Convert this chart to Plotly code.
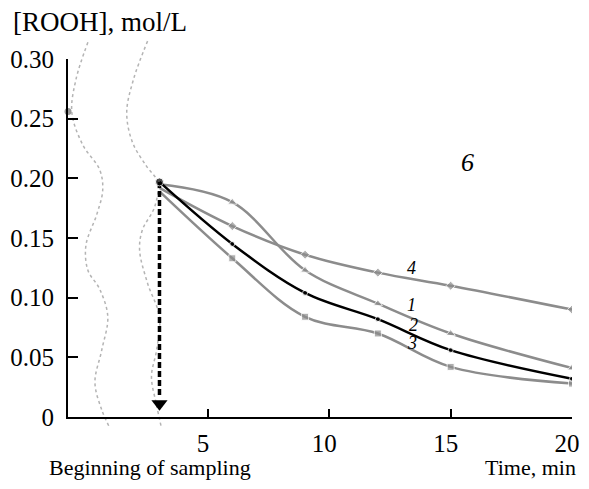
import plotly.graph_objects as go

# sampling times, min
t = [3, 6, 9, 12, 15, 20]

# [ROOH], mol/L for curves 1-4
rooh_1 = [0.195, 0.180, 0.123, 0.095, 0.070, 0.041]
rooh_2 = [0.197, 0.145, 0.104, 0.082, 0.056, 0.032]
rooh_3 = [0.189, 0.133, 0.084, 0.070, 0.042, 0.028]
rooh_4 = [0.192, 0.160, 0.136, 0.121, 0.110, 0.090]

# value before sampling
t0 = -0.77
rooh_0 = 0.256

# dotted "break" curves (decorative)
brk1_t = [0.05, -0.44, -0.61, -0.16, 0.54, 0.66, 0.42, -0.03, 0.05, 0.54, 0.87, 0.62, 0.34, 0.62, 0.95]
brk1_y = [0.314, 0.283, 0.255, 0.228, 0.207, 0.190, 0.170, 0.144, 0.123, 0.107, 0.084, 0.056, 0.029, 0.006, -0.009]
brk2_t = [2.51, 1.93, 1.65, 1.89, 2.47, 2.92, 2.80, 2.30, 2.18, 2.51, 3.0, 2.88, 2.67, 2.88, 3.08]
brk2_y = [0.315, 0.283, 0.255, 0.230, 0.210, 0.197, 0.176, 0.157, 0.140, 0.112, 0.084, 0.056, 0.034, 0.010, -0.009]

xr = [t0, 20]
yr = [0, 0.30]
yticks = [0, 0.05, 0.10, 0.15, 0.20, 0.25, 0.30]
ytext = ['0', '0.05', '0.10', '0.15', '0.20', '0.25', '0.30']
xticks = [5, 10, 15, 20]

# page has an 8px body margin: keep the figure (and all text) inside the window
OFF = 8
W, H = 589 - 2 * OFF, 489 - 2 * OFF
ml, mr, mt, mb = 32, 0, 22, 34
pw, ph = W - ml - mr, H - mt - mb
# main axes placement in page pixels
ax_l, ax_r, ax_t, ax_b = 68, 572, 59, 417


def px(x):
    return (x - OFF - ml) / pw


def py(y):
    return (H - mb - (y - OFF)) / ph


xdom = [px(ax_l), px(ax_r)]
ydom = [py(ax_b), py(ax_t)]


def full_range(r, dom):
    s = (r[1] - r[0]) / (dom[1] - dom[0])
    return [r[0] - dom[0] * s, r[1] + (1 - dom[1]) * s]


GRAY = '#8c8c8c'
FONT = 'Liberation Serif'

fig = go.Figure()

# decorations on the full-size hidden axes (drawn below)
for bt, by in [(brk1_t, brk1_y), (brk2_t, brk2_y)]:
    fig.add_trace(go.Scatter(x=bt, y=by, mode='lines', xaxis='x', yaxis='y',
                             line=dict(color='#b4b4b4', width=1.5, dash='dot', shape='spline'),
                             showlegend=False, hoverinfo='skip'))


def sizes(n):
    return [0] + [n] * (len(t) - 1)


fig.add_trace(go.Scatter(x=t, y=rooh_4, mode='lines+markers', xaxis='x2', yaxis='y2',
                         line=dict(color=GRAY, width=2.5, shape='spline'),
                         marker=dict(symbol='diamond', size=sizes(7), color=GRAY),
                         showlegend=False))
fig.add_trace(go.Scatter(x=t, y=rooh_1, mode='lines+markers', xaxis='x2', yaxis='y2',
                         line=dict(color=GRAY, width=2.5, shape='spline'),
                         marker=dict(symbol='triangle-up', size=sizes(8), color=GRAY),
                         showlegend=False))
fig.add_trace(go.Scatter(x=t, y=rooh_3, mode='lines+markers', xaxis='x2', yaxis='y2',
                         line=dict(color=GRAY, width=2.5, shape='spline'),
                         marker=dict(symbol='square', size=sizes(7), color=GRAY),
                         showlegend=False))

# dashed arrow down from the start point
fig.add_trace(go.Scatter(x=[t[0], t[0]], y=[rooh_2[0], 0.016], mode='lines', xaxis='x2', yaxis='y2',
                         line=dict(color='black', width=3.5, dash='6px,3px'),
                         showlegend=False, hoverinfo='skip'))
fig.add_trace(go.Scatter(x=[t[0]], y=[0.011], mode='markers', xaxis='x2', yaxis='y2',
                         marker=dict(symbol='triangle-down', size=14, color='black'),
                         cliponaxis=False, showlegend=False, hoverinfo='skip'))

fig.add_trace(go.Scatter(x=t, y=rooh_2, mode='lines+markers', xaxis='x2', yaxis='y2',
                         line=dict(color='black', width=2.5, shape='spline'),
                         marker=dict(symbol='circle', size=[8] + [5] * (len(t) - 1), color='black'),
                         showlegend=False))
fig.add_trace(go.Scatter(x=[t0], y=[rooh_0], mode='markers', xaxis='x2', yaxis='y2',
                         marker=dict(symbol='circle', size=7, color='#999999'),
                         cliponaxis=False, showlegend=False))

ann = [
    dict(x=15.7, y=0.213, text='6', size=26),
    dict(x=13.37, y=0.125, text='4', size=18),
    dict(x=13.4, y=0.094, text='1', size=18),
    dict(x=13.45, y=0.077, text='2', size=18),
    dict(x=13.4, y=0.062, text='3', size=18),
]
for a in ann:
    fig.add_annotation(x=a['x'], y=a['y'], xref='x2', yref='y2', text='<i>%s</i>' % a['text'],
                       showarrow=False, font=dict(family=FONT, size=a['size'], color='black'))

fig.add_annotation(x=px(11), y=py(22), xref='paper', yref='paper',
                   text='[ROOH], mol/L', showarrow=False, xanchor='left', yanchor='middle',
                   font=dict(family=FONT, size=27, color='black'))
fig.add_annotation(x=px(47), y=py(468), xref='paper', yref='paper',
                   text='Beginning of sampling', showarrow=False, xanchor='left', yanchor='middle',
                   font=dict(family=FONT, size=22, color='black'))
fig.add_annotation(x=px(578), y=py(468), xref='paper', yref='paper',
                   text='Time, min', showarrow=False, xanchor='right', yanchor='middle',
                   font=dict(family=FONT, size=22, color='black'))

fig.update_layout(
    width=W, height=H,
    margin=dict(l=ml, r=mr, t=mt, b=mb),
    paper_bgcolor='white',
    plot_bgcolor='rgba(0,0,0,0)',
    font=dict(family=FONT, size=25, color='black'),
    xaxis=dict(domain=[0, 1], range=full_range(xr, xdom), visible=False, anchor='y'),
    yaxis=dict(domain=[0, 1], range=full_range(yr, ydom), visible=False, anchor='x'),
    xaxis2=dict(domain=xdom, range=xr, anchor='y2', showline=True, linecolor='black', linewidth=2,
                ticks='inside', ticklen=8, tickwidth=2, tickcolor='black', ticklabelstandoff=3,
                ticklabelshift=-5,
                tickvals=xticks, showgrid=False, zeroline=False, automargin=False),
    yaxis2=dict(domain=ydom, range=yr, anchor='x2', showline=True, linecolor='black', linewidth=2,
                ticks='inside', ticklen=10, tickwidth=2, tickcolor='black', ticklabelstandoff=7,
                tickvals=yticks, ticktext=ytext, showgrid=False, zeroline=False, automargin=False),
)

fig.write_html("out.html")
